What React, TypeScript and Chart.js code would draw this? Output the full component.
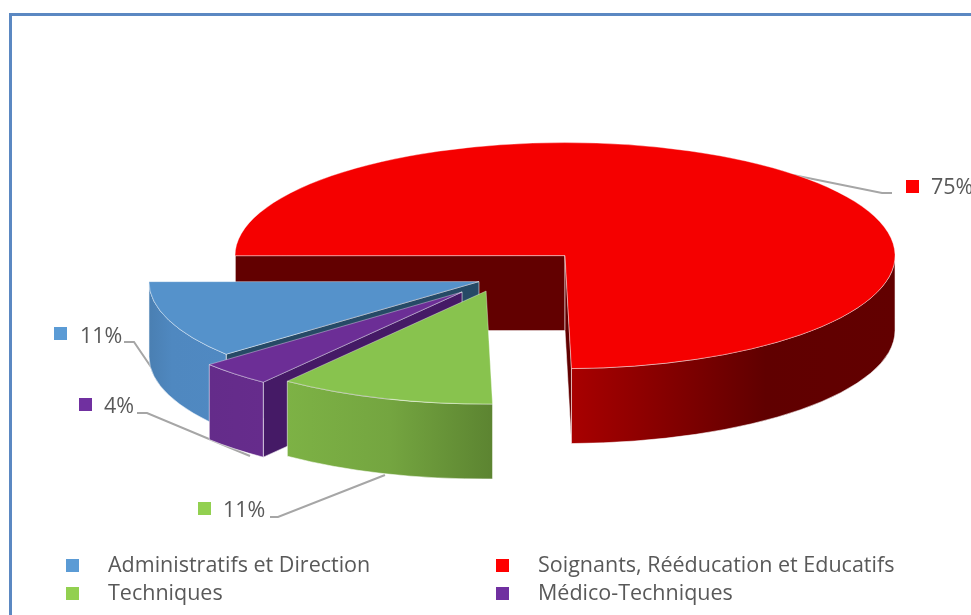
import React, { useEffect, useRef } from "react";
import { Chart, registerables } from "chart.js";

Chart.register(...registerables);

const categories = ["Administratifs et Direction", "Soignants, Rééducation et Educatifs", "Techniques", "Médico-Techniques"];
const shares = [11.1, 74.7, 10.6, 3.6];
const legendColors = ["#5b9bd5", "#ff0000", "#92d050", "#7030a0"];
const topColors = ["#5592cb", "#f50000", "#88c34e", "#6c2e96"];
const cutColors = ["#264a66", "#620000", "#4f7a2a", "#451a66"];
const wallStops = [
  [[0, "#4a7fb2"], [0.3, "#4f88c0"], [1, "#5089c2"]],
  [[0, "#a80000"], [0.25, "#8a0000"], [0.6, "#600000"], [1, "#620000"]],
  [[0, "#7dB245"], [0.5, "#74a540"], [1, "#5c8431"]],
  [[0, "#642c8a"], [1, "#662c8c"]],
];
const explode = [19.4, 96.9, 36, 51];
const paintOrder = [1, 0, 3, 2];

const SQUASH = 0.3424;
const DEPTH = 75;
const FONT = '21.5px "Open Sans", sans-serif';
const TEXT = "#595959";
const EDGE = "rgba(255,255,255,0.55)";

const dataLabels = [
  { box: [54, 327], text: [80, 337], leader: [[124, 342], [134, 342], [170, 395]] },
  { box: [906, 180], text: [931, 188], leader: [[793, 175], [882, 193], [892, 193]] },
  { box: [198, 502], text: [223, 511], leader: [[270, 517], [278, 517], [385, 475]] },
  { box: [79, 398], text: [104, 407], leader: [[137, 413], [147, 413], [233, 449], [250, 456]] },
];
const legendLayout = [
  { box: [66, 559], text: [108, 566] },
  { box: [496, 559], text: [538, 566] },
  { box: [66, 587], text: [108, 594] },
  { box: [496, 587], text: [538, 594] },
];

const pie3d = {
  id: "pie3d",
  beforeDatasetsDraw(chart: any) {
    const { ctx } = chart;
    const arcs = chart.getDatasetMeta(0).data;

    ctx.save();
    ctx.strokeStyle = "#a6a6a6";
    ctx.lineWidth = 2;
    dataLabels.forEach((l) => {
      ctx.beginPath();
      l.leader.forEach(([x, y], i) => (i ? ctx.lineTo(x, y) : ctx.moveTo(x, y)));
      ctx.stroke();
    });
    ctx.restore();

    paintOrder.forEach((i) => {
      const arc = arcs[i];
      const { x, y, startAngle: a1, endAngle: a2, outerRadius: r } = arc;
      const mid = (a1 + a2) / 2;
      const cx = x + Math.cos(mid) * explode[i];
      const cy = y + Math.sin(mid) * explode[i] * SQUASH;
      const pt = (t: number, d = 0) => [cx + r * Math.cos(t), cy + r * SQUASH * Math.sin(t) + d];

      const face = (t: number) => {
        const [ex, ey] = pt(t);
        ctx.beginPath();
        ctx.moveTo(cx, cy);
        ctx.lineTo(ex, ey);
        ctx.lineTo(ex, ey + DEPTH);
        ctx.lineTo(cx, cy + DEPTH);
        ctx.closePath();
        ctx.fillStyle = cutColors[i];
        ctx.fill();
        ctx.strokeStyle = EDGE;
        ctx.lineWidth = 1;
        ctx.stroke();
      };
      if (Math.sin(a1 - Math.PI / 2) > 0) face(a1);
      if (Math.sin(a2 + Math.PI / 2) > 0) face(a2);

      [0, 2 * Math.PI].forEach((k) => {
        const t1 = Math.max(a1, k);
        const t2 = Math.min(a2, k + Math.PI);
        if (t2 <= t1) return;
        const x1 = pt(t1)[0];
        const x2 = pt(t2)[0];
        const g = ctx.createLinearGradient(Math.min(x1, x2), 0, Math.max(x1, x2), 0);
        wallStops[i].forEach(([o, c]) => g.addColorStop(o as number, c as string));
        ctx.beginPath();
        ctx.ellipse(cx, cy, r, r * SQUASH, 0, t1, t2);
        ctx.ellipse(cx, cy + DEPTH, r, r * SQUASH, 0, t2, t1, true);
        ctx.closePath();
        ctx.fillStyle = g;
        ctx.fill();
        ctx.strokeStyle = EDGE;
        ctx.lineWidth = 1;
        ctx.stroke();
      });

      ctx.save();
      ctx.translate(cx, cy);
      ctx.scale(1, SQUASH);
      ctx.translate(-x, -y);
      arc.draw(ctx);
      ctx.restore();
    });

    ctx.save();
    ctx.font = FONT;
    ctx.textBaseline = "middle";
    const total = shares.reduce((a, b) => a + b, 0);
    categories.forEach((name, i) => {
      const d = dataLabels[i];
      ctx.fillStyle = legendColors[i];
      ctx.fillRect(d.box[0], d.box[1], 13, 13);
      ctx.fillStyle = TEXT;
      ctx.fillText(`${Math.round((shares[i] / total) * 100)}%`, d.text[0], d.text[1]);
      const l = legendLayout[i];
      ctx.fillStyle = legendColors[i];
      ctx.fillRect(l.box[0], l.box[1], 13, 13);
      ctx.fillStyle = TEXT;
      ctx.fillText(name, l.text[0], l.text[1]);
    });
    ctx.restore();
    return false;
  },
};

export default function App() {
  const ref = useRef<HTMLCanvasElement>(null);
  useEffect(() => {
    const chart = new Chart(ref.current as HTMLCanvasElement, {
      type: "pie",
      data: {
        labels: categories,
        datasets: [
          {
            data: shares,
            backgroundColor: topColors,
            borderColor: EDGE,
            borderWidth: 1,
            radius: 330,
          } as any,
        ],
      },
      options: {
        responsive: false,
        animation: false,
        rotation: 230,
        layout: { padding: { left: 23.4, bottom: 56.4 } },
        plugins: { legend: { display: false }, tooltip: { enabled: false } },
      },
      plugins: [pie3d],
    } as any);
    return () => chart.destroy();
  }, []);
  return (
    <div style={{ position: "absolute", left: 0, top: 0, width: 971, height: 615, overflow: "hidden", background: "#fff" }}>
      <div style={{ position: "absolute", left: 9, top: 13, width: 1000, height: 700, borderLeft: "3px solid #5b88c2", borderTop: "3px solid #5b88c2" }} />
      <canvas ref={ref} width={971} height={615} style={{ position: "absolute", left: 0, top: 0 }} />
    </div>
  );
}
